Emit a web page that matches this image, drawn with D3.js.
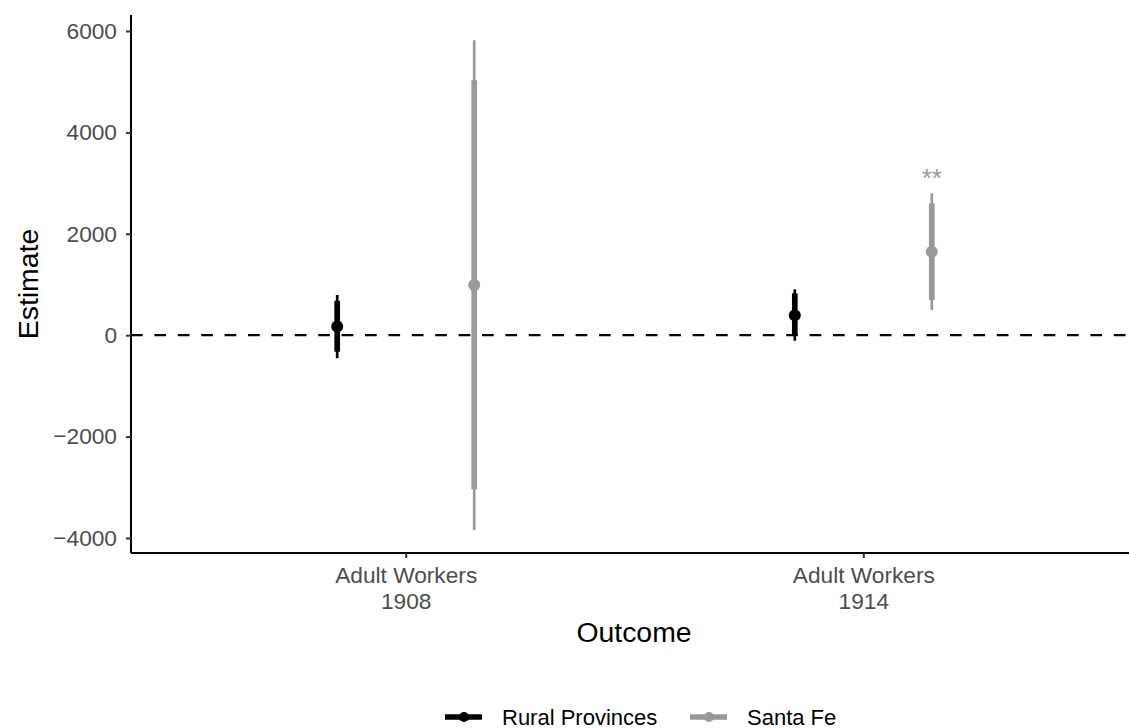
<!DOCTYPE html>
<html>
<head>
<meta charset="utf-8">
<script src="https://cdn.jsdelivr.net/npm/d3@7"></script>
<style>
  body { margin: 0; background: #fff; }
  text { font-family: "Liberation Sans", Arial, sans-serif; }
</style>
</head>
<body>
<div id="chart"></div>
<script>
// Data
const outcomes = ["Adult Workers\n1908", "Adult Workers\n1914"];
const groups = ["Rural Provinces", "Santa Fe"];
const groupColors = ["#000000", "#999999"];
const estimates = [[170, 990], [395, 1645]];
const ci90Low = [[-325, -3040], [0, 695]];
const ci90High = [[680, 5030], [825, 2600]];
const ci95Low = [[-455, -3840], [-110, 495]];
const ci95High = [[795, 5820], [905, 2800]];
const stars = [["", ""], ["", "**"]];
const yTicks = [-4000, -2000, 0, 2000, 4000, 6000];

const width = 1129;
const height = 728;
const svg = d3.select("#chart")
  .append("svg")
  .attr("width", width)
  .attr("height", height);

// Scales
const x = d3.scalePoint()
  .domain(outcomes)
  .range([405.7, 863.3]);
const dodge = d3.scalePoint()
  .domain(groups)
  .range([-68.5, 68.5]);
const y = d3.scaleLinear()
  .domain([-4000, 6000])
  .range([538, 31]);
const color = d3.scaleOrdinal().domain(groups).range(groupColors);

const panelLeft = 131, panelBottom = 553, panelTop = 15;

// Zero reference line
svg.append("line")
  .attr("x1", panelLeft).attr("x2", width)
  .attr("y1", y(0)).attr("y2", y(0))
  .attr("stroke", "#000")
  .attr("stroke-width", 2.2)
  .attr("stroke-dasharray", "11.7,11.7");

// Build the rows
const rows = [];
outcomes.forEach((o, i) => {
  groups.forEach((g, j) => {
    rows.push({
      outcome: o, group: g,
      est: estimates[i][j],
      lo90: ci90Low[i][j], hi90: ci90High[i][j],
      lo95: ci95Low[i][j], hi95: ci95High[i][j],
      star: stars[i][j]
    });
  });
});
const px = d => x(d.outcome) + dodge(d.group);

const marks = svg.append("g");
marks.selectAll(".ci95")
  .data(rows).enter().append("line")
  .attr("x1", px).attr("x2", px)
  .attr("y1", d => y(d.lo95)).attr("y2", d => y(d.hi95))
  .attr("stroke", d => color(d.group))
  .attr("stroke-width", 2.7);
marks.selectAll(".ci90")
  .data(rows).enter().append("line")
  .attr("x1", px).attr("x2", px)
  .attr("y1", d => y(d.lo90)).attr("y2", d => y(d.hi90))
  .attr("stroke", d => color(d.group))
  .attr("stroke-width", 5.7);
marks.selectAll("circle")
  .data(rows).enter().append("circle")
  .attr("cx", px).attr("cy", d => y(d.est))
  .attr("r", 6)
  .attr("fill", d => color(d.group));
marks.selectAll(".star")
  .data(rows.filter(d => d.star)).enter().append("text")
  .attr("x", px)
  .attr("y", d => y(d.hi95) - 6)
  .attr("text-anchor", "middle")
  .attr("font-size", 26)
  .attr("fill", d => color(d.group))
  .text(d => d.star);

// Axes
const yAxis = svg.append("g")
  .attr("transform", `translate(${panelLeft},0)`)
  .call(d3.axisLeft(y).tickValues(yTicks).tickSize(5).tickPadding(9)
    .tickFormat(d => d < 0 ? "\u2212" + Math.abs(d) : d));
yAxis.select(".domain").attr("d", `M0,${panelTop}V${panelBottom}`).attr("stroke-width", 2);
yAxis.selectAll(".tick line").attr("stroke-width", 2).attr("stroke", "#333");
yAxis.selectAll(".tick text").attr("font-size", 22.7).attr("fill", "#4d4d4d")
  .attr("font-family", "Liberation Sans, Arial, sans-serif");

const xAxis = svg.append("g")
  .attr("transform", `translate(0,${panelBottom})`)
  .call(d3.axisBottom(x).tickSize(5).tickFormat(""));
xAxis.select(".domain").attr("d", `M${panelLeft},0H${width + 10}`).attr("stroke-width", 2);
xAxis.selectAll(".tick line").attr("stroke-width", 2).attr("stroke", "#333");
xAxis.selectAll(".tick").each(function(d) {
  const t = d3.select(this).append("text")
    .attr("text-anchor", "middle")
    .attr("font-size", 22.7)
    .attr("fill", "#4d4d4d")
    .attr("font-family", "Liberation Sans, Arial, sans-serif");
  d.split("\n").forEach((line, k) => {
    t.append("tspan").attr("x", 0).attr("y", 30 + k * 26).text(line);
  });
});

// Axis titles
svg.append("text")
  .attr("x", (panelLeft + width) / 2 + 4)
  .attr("y", 642)
  .attr("text-anchor", "middle")
  .attr("font-size", 28.4)
  .text("Outcome");
svg.append("text")
  .attr("transform", "rotate(-90)")
  .attr("x", -(panelTop + panelBottom) / 2)
  .attr("y", 38)
  .attr("text-anchor", "middle")
  .attr("font-size", 28.4)
  .text("Estimate");

// Legend
const legendX = [445, 690];
const legend = svg.append("g").attr("transform", "translate(0,717)");
groups.forEach((g, i) => {
  const item = legend.append("g").attr("transform", `translate(${legendX[i]},0)`);
  item.append("line")
    .attr("x1", 0).attr("x2", 37)
    .attr("stroke", color(g))
    .attr("stroke-width", 5.7);
  item.append("circle")
    .attr("cx", 19).attr("r", 5)
    .attr("fill", color(g));
  item.append("text")
    .attr("x", 57)
    .attr("y", 8)
    .attr("font-size", 22)
    .text(g);
});
</script>
</body>
</html>
